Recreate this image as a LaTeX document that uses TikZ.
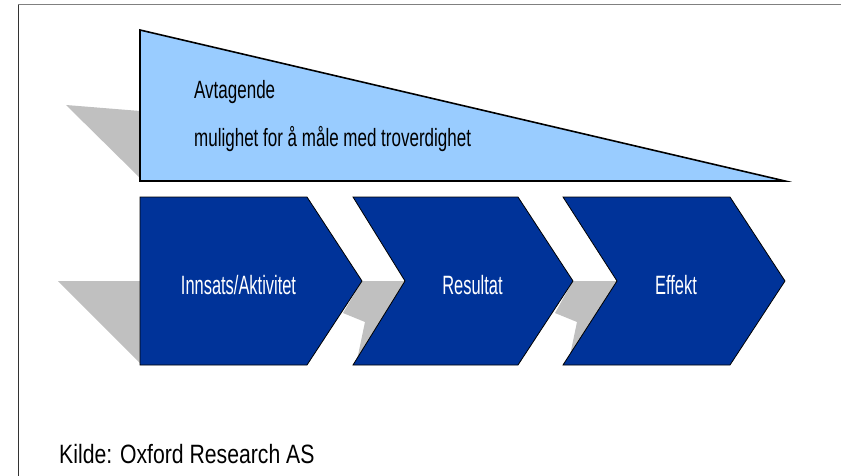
\documentclass[tikz,border=0pt]{standalone}
\usepackage{fontspec}
\setmainfont{Liberation Sans}
\newfontfamily\topfont[FakeStretch=0.68]{Liberation Sans}
\newfontfamily\chevfont[FakeStretch=0.62]{Liberation Sans}
\newfontfamily\kildefont[FakeStretch=0.80]{Liberation Sans}
\definecolor{lightblue}{HTML}{99CCFF}
\definecolor{darkblue}{HTML}{003399}
\definecolor{shadow}{HTML}{C0C0C0}
\tikzset{
  chev/.style={fill=darkblue,draw=black,line width=0.8pt,line join=miter},
  shade/.style={fill=shadow,draw=none},
  chevlabel/.style={text=white,anchor=base,inner sep=0pt,font=\chevfont\fontsize{26.5}{30}\selectfont},
  toplabel/.style={anchor=base west,inner sep=0pt,font=\topfont\fontsize{25}{30}\selectfont}
}
\begin{document}
\begin{tikzpicture}[x=1pt,y=-1pt]
\useasboundingbox[fill=white](0,0) rectangle (841,476);
\draw[gray,line width=1pt](18,5)--(841,5);
\draw[black!80,line width=1pt](18,5)--(18,476);
\fill[shade](66,105)--(140,111)--(140,178)--cycle;
\fill[shade](58,281)--(140,281)--(140,363)--cycle;
\fill[shade](362,281)--(405,281)--(356,365)--(365,322)--(343,313)--cycle;
\fill[shade](573,281)--(617,281)--(568,365)--(577,322)--(555,313)--cycle;
\draw[fill=lightblue,line width=1.6pt,line join=miter](140,30)--(785,181)--(140,181)--cycle;
\draw[chev](140,197)--(307,197)--(362,281)--(307,365)--(140,365)--cycle;
\draw[chev](353,197)--(518,197)--(573,281)--(518,365)--(353,365)--(405,281)--cycle;
\draw[chev](563,197)--(730,197)--(785,281)--(730,365)--(563,365)--(617,281)--cycle;
\node[toplabel](avtagende) at (194,99) {Avtagende};
\node[toplabel](mulighet) at (194,147) {mulighet for å måle med troverdighet};
\node[chevlabel](innsats) at (238.5,294) {Innsats/Aktivitet};
\node[chevlabel](resultat) at (472.5,294) {Resultat};
\node[chevlabel](effekt) at (676,294) {Effekt};
\node[anchor=base west,inner sep=0pt,font=\kildefont\fontsize{26.5}{30}\selectfont](kilde) at (59,463) {Kilde: Oxford Research AS};
\end{tikzpicture}
\end{document}
